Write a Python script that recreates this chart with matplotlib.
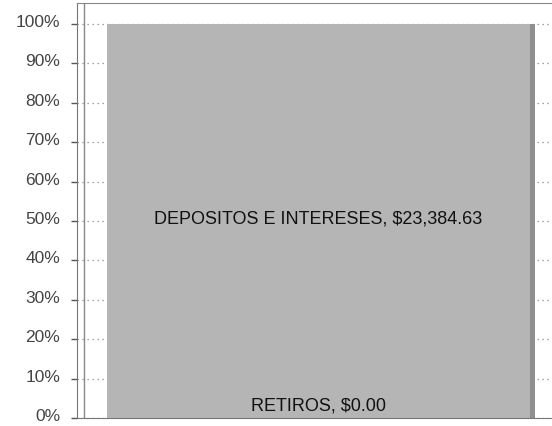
import matplotlib
matplotlib.use("Agg")
import matplotlib.pyplot as plt
from matplotlib.lines import Line2D
from matplotlib.patches import Rectangle
import matplotlib.transforms as mtransforms

categories = ["RETIROS", "DEPOSITOS E INTERESES"]
amounts = [0.00, 23384.63]
yticks = [0, 10, 20, 30, 40, 50, 60, 70, 80, 90, 100]
ytick_labels = [f"{v}%" for v in yticks]

total = sum(amounts)
shares = [a / total * 100 for a in amounts]

plt.rcParams['font.family'] = ['Liberation Sans', 'DejaVu Sans']
fig = plt.figure(figsize=(5.52, 4.26), dpi=100)
ax = fig.add_axes([77 / 552, 8 / 426, (552 - 77) / 552, 415 / 426])

bar_color = "#b5b5b5"
bottom = 0
for cat, amt, sh in zip(categories, amounts, shares):
    ax.bar(0, sh, width=0.8, bottom=bottom, color=bar_color, zorder=2, linewidth=0)
    bottom += sh

# darker side strip on the right of the bar
ax.add_patch(Rectangle((0.4, 0), 0.009, sum(shares), color="#8f8f8f", zorder=2, linewidth=0))

# labels
ax.text(0, shares[0] + 0.9, f"{categories[0]}, ${amounts[0]:,.2f}", ha="center", va="bottom",
        fontsize=13, color="#111111", zorder=3)
ax.text(0, shares[0] + shares[1] / 2 + 0.5, f"{categories[1]}, ${amounts[1]:,.2f}", ha="center",
        va="center", fontsize=13, color="#111111", zorder=3)

ax.set_xlim(-0.4567, 0.4416)
ax.set_ylim(0, 105.3)
ax.set_yticks(yticks)
ax.set_yticklabels(ytick_labels, fontsize=12.5, color="#444444")
ax.tick_params(axis="y", length=4, width=1.0, color="#555555", pad=8)
offset = mtransforms.ScaledTranslation(0, 3 / 100, fig.dpi_scale_trans)
for lbl in ax.get_yticklabels():
    lbl.set_transform(lbl.get_transform() + offset)
ax.set_xticks([])
ax.spines["right"].set_visible(False)
ax.spines["left"].set_color("#777777")
ax.spines["bottom"].set_color("#777777")
ax.spines["top"].set_color("#888888")
ax.spines["top"].set_linewidth(0.8)
ax.yaxis.grid(True, linestyle=(0, (1, 3)), color="#888888", linewidth=0.9, zorder=0)
ax.set_axisbelow(True)

# inner border line of the plot area
ax.add_line(Line2D([7 / 475, 7 / 475], [0, 1], transform=ax.transAxes, color="#888888",
                   linewidth=1.0, zorder=1))

fig.savefig("out.png", dpi=100)
